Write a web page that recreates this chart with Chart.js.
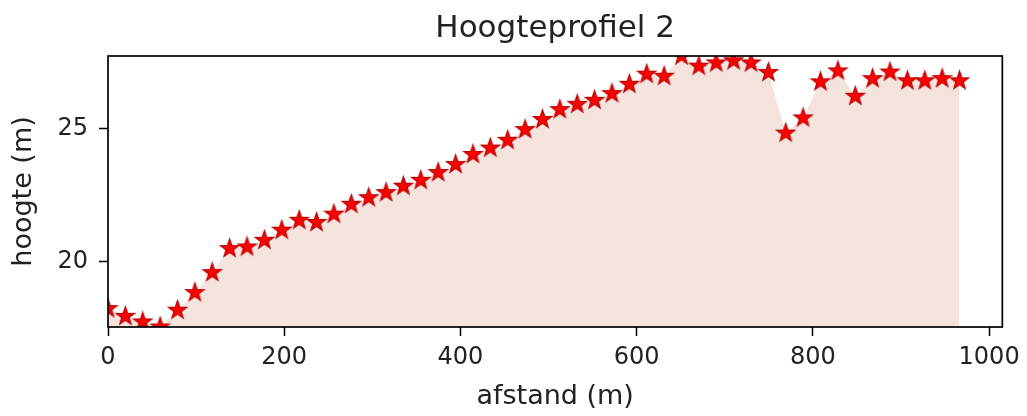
<!DOCTYPE html>
<html>
<head>
<meta charset="utf-8">
<title>Hoogteprofiel 2</title>
<script src="https://cdn.jsdelivr.net/npm/chart.js@4/dist/chart.umd.min.js"></script>
<style>
	html, body { margin: 0; padding: 0; background: #fff; }
	canvas { display: block; }
</style>
</head>
<body>
<canvas id="profiel" width="1027" height="416"></canvas>
<script>
// afstand langs het profiel (m) en gemeten hoogte (m)
var afstand = [0, 19.7, 39.4, 59.2, 78.9, 98.6, 118.3, 138.1, 157.8, 177.5,
	197.2, 217.0, 236.7, 256.4, 276.1, 295.9, 315.6, 335.3, 355.0, 374.7,
	394.5, 414.2, 433.9, 453.6, 473.4, 493.1, 512.8, 532.5, 552.2, 572.0,
	591.7, 611.4, 631.1, 650.9, 670.6, 690.3, 710.0, 729.8, 749.5, 769.2,
	788.9, 808.6, 828.4, 848.1, 867.8, 887.5, 907.3, 927.0, 946.7, 966.4];

var hoogte = [18.25, 17.96, 17.75, 17.56, 18.19, 18.85, 19.60, 20.50, 20.56, 20.81,
	21.19, 21.56, 21.48, 21.79, 22.16, 22.41, 22.60, 22.84, 23.06, 23.35,
	23.65, 24.03, 24.27, 24.56, 24.96, 25.34, 25.71, 25.91, 26.06, 26.31,
	26.66, 27.04, 26.96, 27.72, 27.34, 27.46, 27.54, 27.46, 27.10, 24.83,
	25.40, 26.75, 27.16, 26.21, 26.87, 27.12, 26.79, 26.79, 26.87, 26.79];

var xTicks = [0, 200, 400, 600, 800, 1000];
var yTicks = [20, 25];
var xMax = 1015;

var titel = "Hoogteprofiel 2";
var xLabel = "afstand (m)";
var yLabel = "hoogte (m)";

var FONT = "DejaVu Sans";
var TEXT_COLOR = "#222";

// filled five-pointed star, used as point style
function makeStar(radius) {
	var size = Math.ceil(radius * 2 + 4);
	var c = document.createElement("canvas");
	c.width = size;
	c.height = size;
	var ctx = c.getContext("2d");
	var inner = radius * 0.4;
	ctx.translate(size / 2, size / 2);
	ctx.beginPath();
	for (var i = 0; i < 10; i++) {
		var r = (i % 2 == 0) ? radius : inner;
		var a = -Math.PI / 2 + i * Math.PI / 5;
		if (i == 0) ctx.moveTo(r * Math.cos(a), r * Math.sin(a));
		else ctx.lineTo(r * Math.cos(a), r * Math.sin(a));
	}
	ctx.closePath();
	ctx.fillStyle = "#ff0000";
	ctx.fill();
	ctx.lineJoin = "miter";
	ctx.lineWidth = 1.3;
	ctx.strokeStyle = "#c00000";
	ctx.stroke();
	return c;
}

function toPoints(xs, ys) {
	var pts = [];
	for (var i = 0; i < xs.length; i++) pts.push({x: xs[i], y: ys[i]});
	return pts;
}

function fixedTicks(values) {
	return function(scale) {
		scale.ticks = values.map(function(v) { return {value: v}; });
	};
}

function plainLabel(value) {
	return String(value);
}

// title over the axes and the black frame round the plot area
var framePlugin = {
	id: "frame",
	afterDraw: function(chart) {
		var ctx = chart.ctx;
		var area = chart.chartArea;
		ctx.save();
		ctx.strokeStyle = "#000";
		ctx.lineWidth = 1.7;
		ctx.strokeRect(area.left, area.top, area.right - area.left, area.bottom - area.top);

		ctx.fillStyle = TEXT_COLOR;
		ctx.font = "31px '" + FONT + "'";
		ctx.textAlign = "center";
		ctx.textBaseline = "alphabetic";
		ctx.fillText(titel, (area.left + area.right) / 2, 37);
		ctx.restore();
	}
};

var puntjes = toPoints(afstand, hoogte);

var chart = new Chart(document.getElementById("profiel"), {
	type: "line",
	data: {
		datasets: [{
			data: puntjes,
			fill: "start",
			backgroundColor: "#f5e4de",
			borderWidth: 0,
			pointRadius: 0,
			clip: 0,
			order: 2
		}, {
			data: puntjes,
			showLine: false,
			pointStyle: makeStar(9.5),
			pointRadius: 9,
			clip: 0,
			order: 1
		}]
	},
	options: {
		responsive: false,
		animation: false,
		devicePixelRatio: 1,
		layout: { padding: { top: 56, right: 24, left: 0, bottom: 0 } },
		plugins: {
			legend: { display: false },
			tooltip: { enabled: false },
			title: { display: false }
		},
		scales: {
			x: {
				type: "linear",
				min: 0,
				max: xMax,
				afterBuildTicks: fixedTicks(xTicks),
				afterFit: function(scale) { scale.height = 89; },
				border: { display: false },
				grid: {
					drawOnChartArea: false,
					drawTicks: true,
					tickLength: 9,
					tickWidth: 1.5,
					tickColor: "#000"
				},
				ticks: {
					padding: 7,
					maxRotation: 0,
					color: TEXT_COLOR,
					font: { family: FONT, size: 24 },
					callback: plainLabel
				},
				title: {
					display: true,
					text: xLabel,
					color: TEXT_COLOR,
					font: { family: FONT, size: 27 },
					padding: { top: 0, bottom: 3 }
				}
			},
			y: {
				type: "linear",
				min: Math.min.apply(null, hoogte),
				max: Math.max.apply(null, hoogte),
				afterBuildTicks: fixedTicks(yTicks),
				afterFit: function(scale) { scale.width = 108; },
				border: { display: false },
				grid: {
					drawOnChartArea: false,
					drawTicks: true,
					tickLength: 9,
					tickWidth: 1.5,
					tickColor: "#000"
				},
				ticks: {
					padding: 11,
					color: TEXT_COLOR,
					font: { family: FONT, size: 24 },
					callback: plainLabel
				},
				title: {
					display: true,
					text: yLabel,
					color: TEXT_COLOR,
					font: { family: FONT, size: 27 },
					padding: { top: 8, bottom: 0 }
				}
			}
		}
	},
	plugins: [framePlugin]
});
</script>
</body>
</html>
